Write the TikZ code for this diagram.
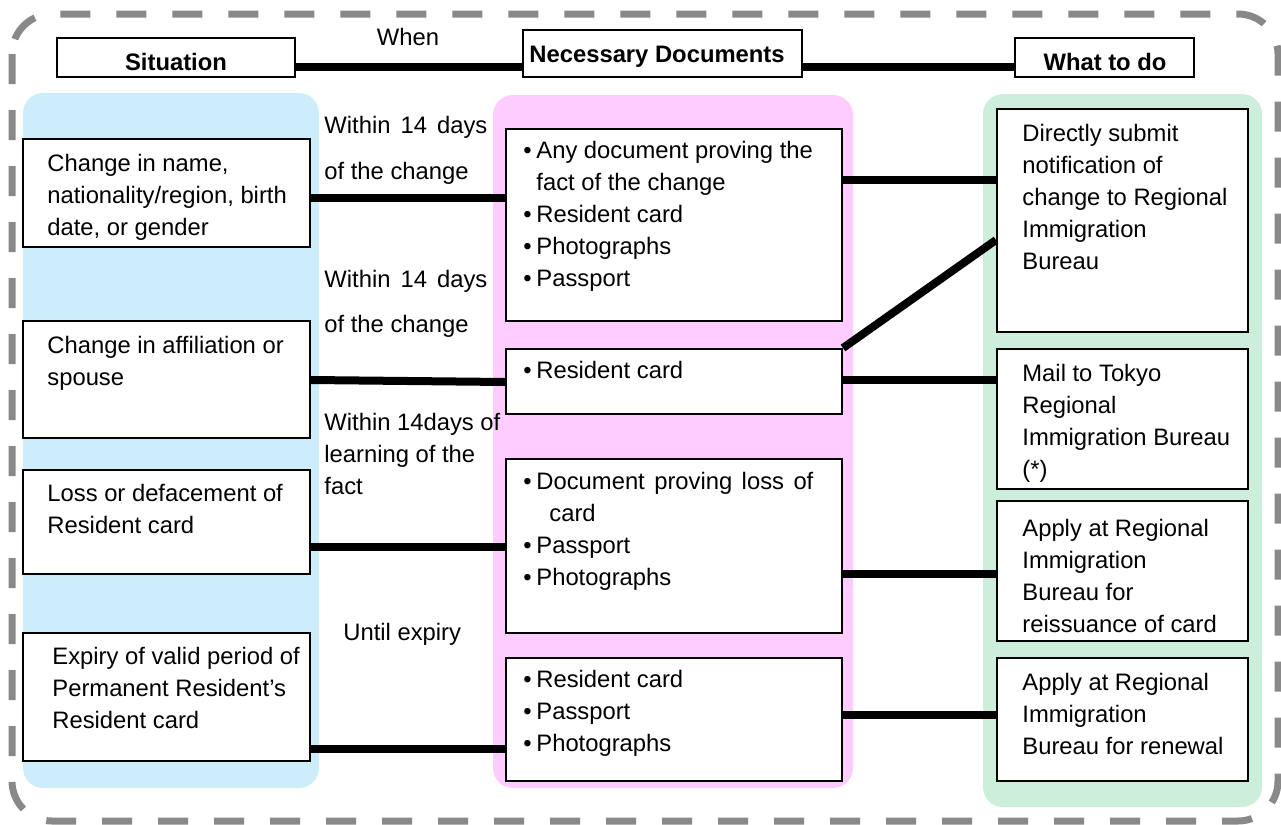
\documentclass[tikz,border=0pt]{standalone}
\usepackage{fontspec}
\setmainfont{Liberation Sans}
\usetikzlibrary{fit}
\definecolor{dashgray}{RGB}{137,137,137}
\definecolor{sitblue}{RGB}{204,237,249}
\definecolor{docpink}{RGB}{255,204,255}
\definecolor{dogreen}{RGB}{206,238,220}
\newcommand\docbullet{\makebox[6.5pt][l]{•}}
\begin{document}
\begin{tikzpicture}[x=0.5pt,y=-0.5pt,
  box/.style={draw=black, line width=1pt, fill=white, inner sep=0pt},
  txt/.style={anchor=north west, inner sep=0pt, align=left, font=\fontsize{11.9}{16}\selectfont},
  hdr/.style={inner sep=0pt, font=\fontsize{11.9}{16}\selectfont\bfseries},
  link/.style={line width=4pt, black},
  region/.style={rounded corners=10pt},
]
\useasboundingbox (0,0) rectangle (1281,825);
% outer dashed frame
\draw[dashgray, line width=3.5pt, dash pattern=on 15pt off 13pt, rounded corners=20pt] (12,14) rectangle (1278,821);
% coloured columns
\fill[sitblue, region] (23,93) rectangle (319,788);
\fill[docpink, region] (493,95) rectangle (853,788);
\fill[dogreen, region] (983,94) rectangle (1262,807);
% header boxes
\node[box, fit={(57,38) (295,77)}] (sit) {};
\node[box, fit={(523,30) (802,77)}] (nd) {};
\node[box, fit={(1015,38) (1194,77)}] (what) {};
% left boxes
\node[box, fit={(23,139) (310,247)}] (l1) {};
\node[box, fit={(23,321) (310,438)}] (l2) {};
\node[box, fit={(23,470) (310,574)}] (l3) {};
\node[box, fit={(23,633) (310,761)}] (l4) {};
% middle boxes
\node[box, fit={(506,129) (842,321)}] (m1) {};
\node[box, fit={(506,349) (842,414)}] (m2) {};
\node[box, fit={(506,459) (842,633)}] (m3) {};
\node[box, fit={(506,658) (842,781)}] (m4) {};
% right boxes
\node[box, fit={(997,109) (1248,332)}] (r1) {};
\node[box, fit={(997,349) (1248,489)}] (r2) {};
\node[box, fit={(997,501) (1248,641)}] (r3) {};
\node[box, fit={(997,658) (1248,781)}] (r4) {};
% connectors
\draw[link] (sit.east |- 0,67) -- (nd.west |- 0,67);
\draw[link] (nd.east |- 0,67) -- (what.west |- 0,67);
\draw[link] (l1.east |- 0,198) -- (m1.west |- 0,198);
\draw[link] (l2.east |- 0,380) -- (m2.west |- 0,382);
\draw[link] (l3.east |- 0,547) -- (m3.west |- 0,547);
\draw[link] (l4.east |- 0,749) -- (m4.west |- 0,749);
\draw[link] (m1.east |- 0,180) -- (r1.west |- 0,180);
\draw[link] (m2.north east) -- (r1.west |- 0,240);
\draw[link] (m2.east |- 0,380) -- (r2.west |- 0,380);
\draw[link] (m3.east |- 0,574) -- (r3.west |- 0,574);
\draw[link] (m4.east |- 0,715) -- (r4.west |- 0,715);
% header texts
\node[hdr, anchor=base] (sitT) at (176,70) {Situation};
\node[hdr, anchor=base west] (ndT) at (529,62) {Necessary Documents};
\node[hdr, anchor=base] (whatT) at (1105,70) {What to do};
\node[txt, anchor=base] (whenT) at (408,45) {When};
% left texts
\node[txt] (l1T) at (47,148.6) {\strut Change in name,\\ nationality/region, birth\\ date, or gender};
\node[txt] (l2T) at (47,330.6) {\strut Change in affiliation or\\ spouse};
\node[txt] (l3T) at (47,478.6) {\strut Loss or defacement of\\ Resident card};
\node[txt] (l4T) at (52,641.6) {\strut Expiry of valid period of\\ Permanent Resident’s\\ Resident card};
% middle texts
\node[txt] (m1T) at (523,135.6) {\strut\docbullet Any document proving the\\ \hspace*{6.5pt}fact of the change\\ \docbullet Resident card\\ \docbullet Photographs\\ \docbullet Passport};
\node[txt] (m2T) at (523,355.6) {\strut\docbullet Resident card};
\node[txt] (m3T) at (523,466.6) {\strut\docbullet\hbox to 138.5pt{Document\hfill proving\hfill loss\hfill of}\\ \hspace*{13pt}card\\ \docbullet Passport\\ \docbullet Photographs};
\node[txt] (m4T) at (523,664.6) {\strut\docbullet Resident card\\ \docbullet Passport\\ \docbullet Photographs};
% right texts
\node[txt] (r1T) at (1022,118.6) {\strut Directly submit\\ notification of\\ change to Regional\\ Immigration\\ Bureau};
\node[txt] (r2T) at (1022,358.6) {\strut Mail to Tokyo\\ Regional\\ Immigration Bureau\\ (*)};
\node[txt] (r3T) at (1022,513.6) {\strut Apply at Regional\\ Immigration\\ Bureau for\\ reissuance of card};
\node[txt] (r4T) at (1022,667.6) {\strut Apply at Regional\\ Immigration\\ Bureau for renewal};
% time labels
\node[txt] (w1) at (324,110.6) {\strut\hbox to 81.5pt{Within\hfill 14\hfill days}\\[7pt] of the change};
\node[txt] (w2) at (324,264.6) {\strut\hbox to 81.5pt{Within\hfill 14\hfill days}\\[6.5pt] of the change};
\node[txt] (w3) at (324,407.6) {\strut Within 14days of\\ learning of the\\ fact};
\node[txt] (w4) at (343,617.6) {\strut Until expiry};
\end{tikzpicture}
\end{document}
